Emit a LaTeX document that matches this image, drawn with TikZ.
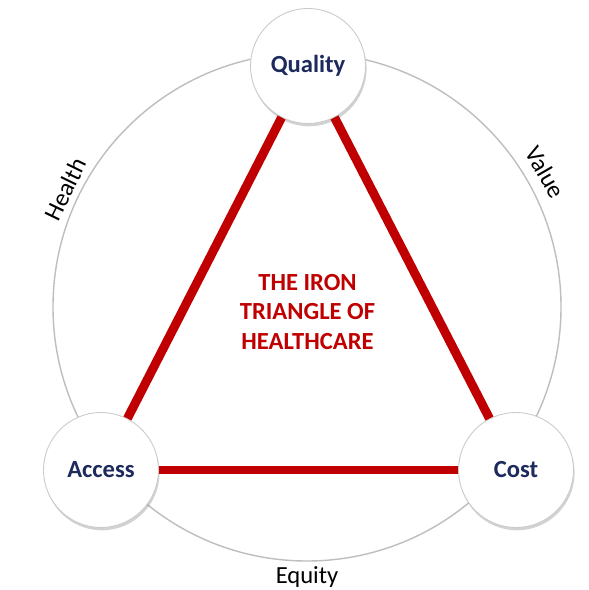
\documentclass[tikz,border=0pt]{standalone}
\usepackage{fontspec}
\setmainfont{Carlito}
\usepackage{tikz}
\usetikzlibrary{shadows}
\definecolor{rosso}{HTML}{C00000}
\definecolor{blunotte}{HTML}{1C2A5C}
\definecolor{grigio}{HTML}{BEBEBE}

\begin{document}
\begin{tikzpicture}[x=0.02cm, y=0.02cm,
    vertice/.style={circle, draw=grigio!80, line width=0.5pt, fill=white,
        minimum size=2.3cm, inner sep=0pt, text=blunotte,
        font=\fontsize{14}{17}\selectfont\bfseries,
        drop shadow={shadow xshift=0.6pt, shadow yshift=-1.6pt, opacity=0.35}},
    etichetta/.style={font=\fontsize{14}{17}\selectfont, text=black},
    lato/.style={rosso, line width=5.1pt}]
        \fill[white] (0,0) rectangle (588,590);
        \useasboundingbox (0,0) rectangle (588,590);
        % cerchio esterno
        \coordinate (c) at (307,283);
        \draw[grigio, line width=0.8pt] (c) circle (254);
        % vertici
        \node[vertice] (quality) at (308,524) {Quality};
        \node[vertice] (access)  at (101,120) {Access};
        \node[vertice] (cost)    at (516,120) {Cost};
        % lati
        \draw[lato] (quality) -- (access);
        \draw[lato] (quality) -- (cost);
        \draw[lato] (access) -- (cost);
        \node[rosso, align=center, font=\fontsize{14}{17}\selectfont\bfseries]
            (titolo) at (307.5,278) {THE IRON\\TRIANGLE OF\\HEALTHCARE};
        % etichette sul cerchio
        \node[etichetta, rotate=64]  (health) at ([shift={(154:269)}]c) {Health};
        \node[etichetta, rotate=-60] (value)  at ([shift={(29.5:274)}]c) {Value};
        \node[etichetta]             (equity) at ([shift={(-90:270)}]c) {Equity};
    \end{tikzpicture}
\end{document}
